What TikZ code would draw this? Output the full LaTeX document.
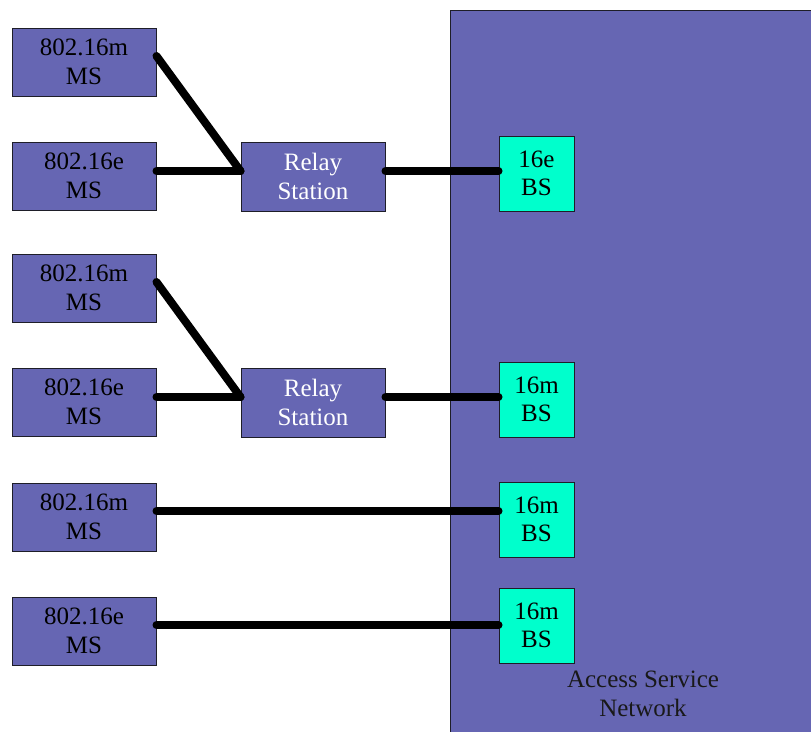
\documentclass[tikz,border=0pt]{standalone}
\usepackage{fontspec}
\setmainfont{Liberation Serif}
\definecolor{boxpurple}{RGB}{102,102,179}
\definecolor{bscyan}{RGB}{0,255,204}
\definecolor{edgegray}{RGB}{30,30,40}
\begin{document}
\begin{tikzpicture}[x=1pt,y=-1pt,
  base/.style={draw=edgegray,line width=1pt,inner sep=0pt,align=center,font=\fontsize{25}{28.5}\selectfont},
  msbox/.style={base,fill=boxpurple,minimum width=144pt,minimum height=68pt},
  relaybox/.style={base,fill=boxpurple,text=white,minimum width=144pt,minimum height=69pt},
  bsbox/.style={base,fill=bscyan,minimum width=75pt,minimum height=75pt},
  link/.style={line width=8pt,line cap=round,line join=round}]
\useasboundingbox (0,0) rectangle (811,731);
\begin{scope}
\clip (0,0) rectangle (811,731);
\draw[draw=edgegray,line width=1pt,fill=boxpurple] (450,10) rectangle (830,750);
\end{scope}
\node[font=\fontsize{25}{28.5}\selectfont,align=center,text=black!90] (asn) at (643,694) {Access Service\\Network};
\node[msbox] (ms1) at (84,62) {802.16m\\MS};
\node[msbox] (ms2) at (84,176) {802.16e\\MS};
\node[msbox] (ms3) at (84,288) {802.16m\\MS};
\node[msbox] (ms4) at (84,402) {802.16e\\MS};
\node[msbox] (ms5) at (84,517) {802.16m\\MS};
\node[msbox] (ms6) at (84,631) {802.16e\\MS};
\node[relaybox] (rs1) at (313,176.5) {Relay\\Station};
\node[relaybox] (rs2) at (313,402.5) {Relay\\Station};
\node[bsbox] (bs1) at (536.5,173.5) {16e\\BS};
\node[bsbox] (bs2) at (536.5,399.5) {16m\\BS};
\node[bsbox] (bs3) at (536.5,519.5) {16m\\BS};
\node[bsbox] (bs4) at (536.5,625.5) {16m\\BS};
\draw[link] ([yshift=6pt]ms1.east) -- ([yshift=5.5pt]rs1.west);
\draw[link] ([yshift=5pt]ms2.east) -- ([yshift=5.5pt]rs1.west);
\draw[link] ([yshift=5.5pt]rs1.east) -- ([yshift=2.5pt]bs1.west);
\draw[link] ([yshift=6pt]ms3.east) -- ([yshift=5.5pt]rs2.west);
\draw[link] ([yshift=5pt]ms4.east) -- ([yshift=5.5pt]rs2.west);
\draw[link] ([yshift=5.5pt]rs2.east) -- ([yshift=2.5pt]bs2.west);
\draw[link] ([yshift=6pt]ms5.east) -- ([yshift=8.5pt]bs3.west);
\draw[link] ([yshift=6pt]ms6.east) -- ([yshift=0.5pt]bs4.west);
\end{tikzpicture}
\end{document}
